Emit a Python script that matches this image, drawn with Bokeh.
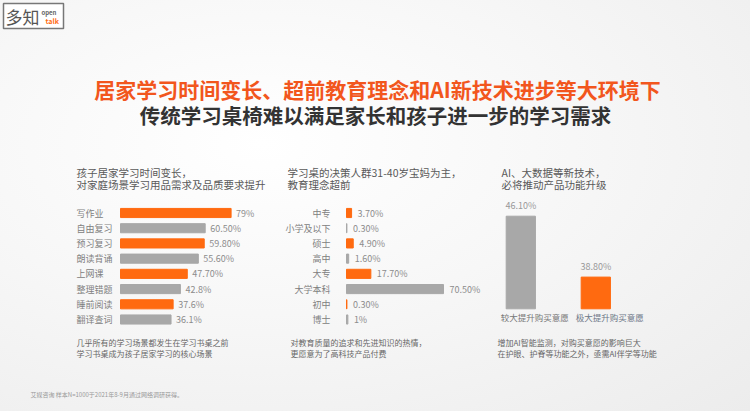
from bokeh.plotting import figure
from bokeh.models import Range1d, ColumnDataSource
from bokeh.core.properties import value
from bokeh.embed import file_html
from bokeh.resources import INLINE

W, H = 750, 411
FONT = "Noto Sans CJK SC"
ORANGE = "#FF6A10"
GRAY = "#A8A8A8"
TITLE_ORANGE = "#F2561D"

# ---------------- data ----------------
title_main = "居家学习时间变长、超前教育理念和AI新技术进步等大环境下"
title_sub = "传统学习桌椅难以满足家长和孩子进一步的学习需求"

p1_title = ["孩子居家学习时间变长，", "对家庭场景学习用品需求及品质要求提升"]
p1_cats = ["写作业", "自由复习", "预习复习", "朗读背诵", "上网课", "整理错题", "睡前阅读", "翻译查词"]
p1_vals = [79, 60.5, 59.8, 55.6, 47.7, 42.8, 37.6, 36.1]
p1_labels = ["79%", "60.50%", "59.80%", "55.60%", "47.70%", "42.8%", "37.6%", "36.1%"]
p1_note = ["几乎所有的学习场景都发生在学习书桌之前", "学习书桌成为孩子居家学习的核心场景"]

p2_title = ["学习桌的决策人群31-40岁宝妈为主，", "教育理念超前"]
p2_cats = ["中专", "小学及以下", "硕士", "高中", "大专", "大学本科", "初中", "博士"]
p2_vals = [3.7, 0.3, 4.9, 1.6, 17.7, 70.5, 0.3, 1]
p2_labels = ["3.70%", "0.30%", "4.90%", "1.60%", "17.70%", "70.50%", "0.30%", "1%"]
p2_note = ["对教育质量的追求和先进知识的热情，", "更愿意为了高科技产品付费"]

p3_title = ["AI、大数据等新技术，", "必将推动产品功能升级"]
p3_cats = ["较大提升购买意愿", "极大提升购买意愿"]
p3_vals = [46.1, 38.8]
p3_labels = ["46.10%", "38.80%"]
p3_note = ["增加AI智能监测，对购买意愿的影响巨大", "在护眼、护脊等功能之外，亟需AI伴学等功能"]

footer = "艾媒咨询 样本N=1000于2021年8-9月通过网络调研获得。"


# ---------------- helpers ----------------
def axis_range(v_a, px_a, v_b, px_b, total, flip=False):
    """Range whose values v_a, v_b land on pixels px_a, px_b of the frame."""
    b = (px_b - px_a) / (v_b - v_a)
    a = px_a - b * v_a
    if flip:  # pixel measured from top; range start is at the bottom
        return Range1d(start=(total - a) / b, end=(0 - a) / b)
    return Range1d(start=(0 - a) / b, end=(total - a) / b)


def txt(p, x, y, t, size, color, align="left", bold=False, **kw):
    p.text(x=x, y=y, text=t, text_font=value(FONT), text_font_size=size,
           text_color=color, text_align=align, text_baseline="middle",
           text_font_style="bold" if bold else "normal", **kw)


p = figure(width=W, height=H, x_range=Range1d(0, W), y_range=Range1d(H, 0),
           output_backend="svg", toolbar_location=None, min_border=0,
           background_fill_alpha=0, border_fill_alpha=0,
           styles={"background": "radial-gradient(ellipse at 35% 35%, #ffffff 0%, "
                                 "#f7f7f7 45%, #ececec 100%)"})
p.axis.visible = False
p.grid.visible = False
p.outline_line_color = None

p.extra_x_ranges = {
    "p1x": axis_range(0, 120, 79, 120 + 79 * 1.40, W),
    "p2x": axis_range(0, 346, 70.5, 443, W),
    "p3x": axis_range(0, 520.3, 1, 595.3, W),
}
BASELINE = 35
p.extra_y_ranges = {
    "rows": axis_range(0, 212.5, 7, 319, H, flip=True),
    "p3y": axis_range(BASELINE, 308.3, 46.1, 215.7, H, flip=True),
}

# ---------------- logo ----------------
p.quad(left=[3], right=[63], top=[3], bottom=[28], fill_color="white",
       line_color="#777777", line_width=1.5)
txt(p, [5], [16], ["多知"], "17px", "#555555")
txt(p, [41], [12], ["open"], "6px", "#666666", bold=True)
txt(p, [45], [20.5], ["talk"], "7px", ORANGE, bold=True)

# ---------------- titles ----------------
txt(p, [W / 2 + 2], [88], [title_main], "21px", TITLE_ORANGE, align="center", bold=True)
txt(p, [W / 2], [114], [title_sub], "20.5px", "#333333", align="center", bold=True)

# ---------------- panel 1 ----------------
txt(p, [76, 76], [171.5, 183.5], p1_title, "10.5px", "#595959")
src1 = ColumnDataSource(dict(idx=list(range(len(p1_cats))), cat=p1_cats, val=p1_vals,
                             lab=p1_labels,
                             color=[ORANGE if i % 2 == 0 else GRAY for i in range(len(p1_cats))]))
p.hbar(y="idx", left=0, right="val", height=0.6, color="color", source=src1,
       x_range_name="p1x", y_range_name="rows")
p.text(x=76, y="idx", text="cat", source=src1, y_range_name="rows",
       text_font=value(FONT), text_font_size="9px", text_color="#808080",
       text_align="left", text_baseline="middle")
p.text(x="val", y="idx", text="lab", source=src1, x_range_name="p1x", y_range_name="rows",
       x_offset=5, text_font=value(FONT), text_font_size="9px", text_color="#8C8C8C",
       text_align="left", text_baseline="middle")
txt(p, [76, 76], [342, 353], p1_note, "8px", "#666666")

# ---------------- panel 2 ----------------
txt(p, [287, 287], [171.5, 183.5], p2_title, "10.5px", "#595959")
src2 = ColumnDataSource(dict(idx=list(range(len(p2_cats))), cat=p2_cats, val=p2_vals,
                             lab=p2_labels,
                             color=[ORANGE if i % 2 == 0 else GRAY for i in range(len(p2_cats))]))
p.hbar(y="idx", left=0, right="val", height=0.6, color="color", source=src2,
       line_color="color", line_width=1,
       x_range_name="p2x", y_range_name="rows")
p.text(x=330, y="idx", text="cat", source=src2, y_range_name="rows",
       text_font=value(FONT), text_font_size="9px", text_color="#808080",
       text_align="right", text_baseline="middle")
p.text(x="val", y="idx", text="lab", source=src2, x_range_name="p2x", y_range_name="rows",
       x_offset=6, text_font=value(FONT), text_font_size="9px", text_color="#8C8C8C",
       text_align="left", text_baseline="middle")
txt(p, [290, 290], [342, 353], p2_note, "8px", "#666666")

# ---------------- panel 3 ----------------
txt(p, [501, 501], [171.5, 183.5], p3_title, "10.5px", "#595959")
BAR_W = 0.39
src3 = ColumnDataSource(dict(idx=list(range(len(p3_cats))), cat=p3_cats, val=p3_vals,
                             lab=p3_labels, color=[GRAY, ORANGE],
                             tcolor=["#777777", "#6E7888"]))
p.vbar(x="idx", top="val", bottom=BASELINE, width=BAR_W, color="color", source=src3,
       x_range_name="p3x", y_range_name="p3y")
p.text(x="idx", y="val", text="lab", source=src3, x_range_name="p3x", y_range_name="p3y",
       y_offset=-4, text_font=value(FONT), text_font_size="9px", text_color="#999999",
       text_align="center", text_baseline="bottom")
p.text(x="idx", y=BASELINE, text="cat", source=src3, x_range_name="p3x", y_range_name="p3y",
       x_offset=-20, y_offset=8, text_font=value(FONT), text_font_size="8.5px",
       text_color="tcolor", text_align="left", text_baseline="middle")
txt(p, [497, 497], [342, 353], p3_note, "8px", "#666666")

# ---------------- footer ----------------
txt(p, [30], [394], [footer], "6px", "#999999")

open("out.html", "w").write(file_html(p, INLINE))
